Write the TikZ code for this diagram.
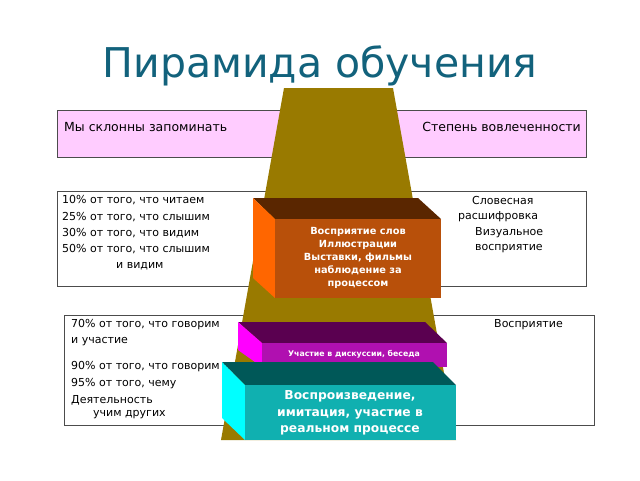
\documentclass[tikz,border=0pt]{standalone}
\usepackage{fontspec}
\setmainfont{DejaVu Sans}
\definecolor{titlec}{RGB}{18,98,124}
\definecolor{pinkc}{RGB}{255,204,255}
\definecolor{pyr}{RGB}{153,122,0}
\definecolor{b1top}{RGB}{90,38,0}
\definecolor{b1side}{RGB}{255,102,0}
\definecolor{b1front}{RGB}{184,80,10}
\definecolor{b2top}{RGB}{90,0,80}
\definecolor{b2side}{RGB}{255,0,255}
\definecolor{b2front}{RGB}{176,16,176}
\definecolor{b3top}{RGB}{0,88,88}
\definecolor{b3side}{RGB}{0,255,255}
\definecolor{b3front}{RGB}{16,176,176}
\begin{document}
\begin{tikzpicture}[x=1pt,y=-1pt,
  panel/.style={draw=black!70,line width=0.6pt},
  txt/.style={font=\fontsize{11}{13}\selectfont,inner sep=0pt,anchor=west},
  boxtxt/.style={font=\fontsize{9.8}{13}\selectfont\bfseries,text=white,align=center}]
\useasboundingbox (0,0) rectangle (640,480);
\fill[white] (0,0) rectangle (640,480);
\node[font=\fontsize{41}{46}\selectfont,text=titlec] (title) at (320,66) {Пирамида обучения};
% panels
\draw[panel,fill=pinkc] (57,110) rectangle (586,157);
\node[txt,font=\fontsize{12.5}{14}\selectfont] (p1a) at (64,127) {Мы склонны запоминать};
\node[txt,font=\fontsize{12.5}{14}\selectfont,anchor=east] (p1b) at (581,127) {Степень вовлеченности};
\draw[panel,fill=white] (57,191) rectangle (586,286);
\node[txt] (l1) at (62,200) {10\% от того, что читаем};
\node[txt] (l2) at (62,217) {25\% от того, что слышим};
\node[txt] (l3) at (62,233) {30\% от того, что видим};
\node[txt] (l4) at (62,249) {50\% от того, что слышим};
\node[txt] (l5) at (116,266) {и видим};
\node[txt] (r1) at (472,200) {Словесная};
\node[txt] (r2) at (458,217) {расшифровка};
\node[txt] (r3) at (475,233) {Визуальное};
\node[txt] (r4) at (475,249) {восприятие};
\draw[panel,fill=white] (64,315) rectangle (594,425);
\node[txt] (m1) at (71,325) {70\% от того, что говорим};
\node[txt] (m2) at (71,342) {и участие};
\node[txt] (m3) at (71,367) {90\% от того, что говорим и делаем};
\node[txt] (m4) at (71,384) {95\% от того, чему};
\node[txt] (m5) at (71,400) {Деятельность};
\node[txt] (m6) at (93,415) {учим других};
\node[txt] (rr) at (494,325) {Восприятие};
% pyramid
\fill[pyr] (284,88) -- (393,88) -- (456,440) -- (221,440) -- cycle;
% box 1
\fill[b1top] (253,198) -- (418,198) -- (441,219) -- (275,219) -- cycle;
\fill[b1side] (253,198) -- (275,219) -- (275,298) -- (253,278) -- cycle;
\fill[b1front] (275,219) rectangle (441,298);
\node[boxtxt] (b1) at (358,258) {Восприятие слов\\Иллюстрации\\Выставки, фильмы\\наблюдение за\\процессом};
% box 2
\fill[b2top] (238,322) -- (425,322) -- (447,343) -- (262,343) -- cycle;
\fill[b2side] (238,322) -- (262,343) -- (262,367) -- (238,350) -- cycle;
\fill[b2front] (262,343) rectangle (447,367);
\node[boxtxt,font=\fontsize{7.8}{9}\selectfont\bfseries] (b2) at (354,354) {Участие в дискуссии, беседа};
% box 3
\fill[b3top] (222,362) -- (433,362) -- (456,385) -- (245,385) -- cycle;
\fill[b3side] (222,362) -- (245,385) -- (245,440) -- (222,418) -- cycle;
\fill[b3front] (245,385) rectangle (456,440);
\node[boxtxt,font=\fontsize{12.3}{16.5}\selectfont\bfseries] (b3) at (350,413) {Воспроизведение,\\имитация, участие в\\реальном процессе};
\end{tikzpicture}
\end{document}
